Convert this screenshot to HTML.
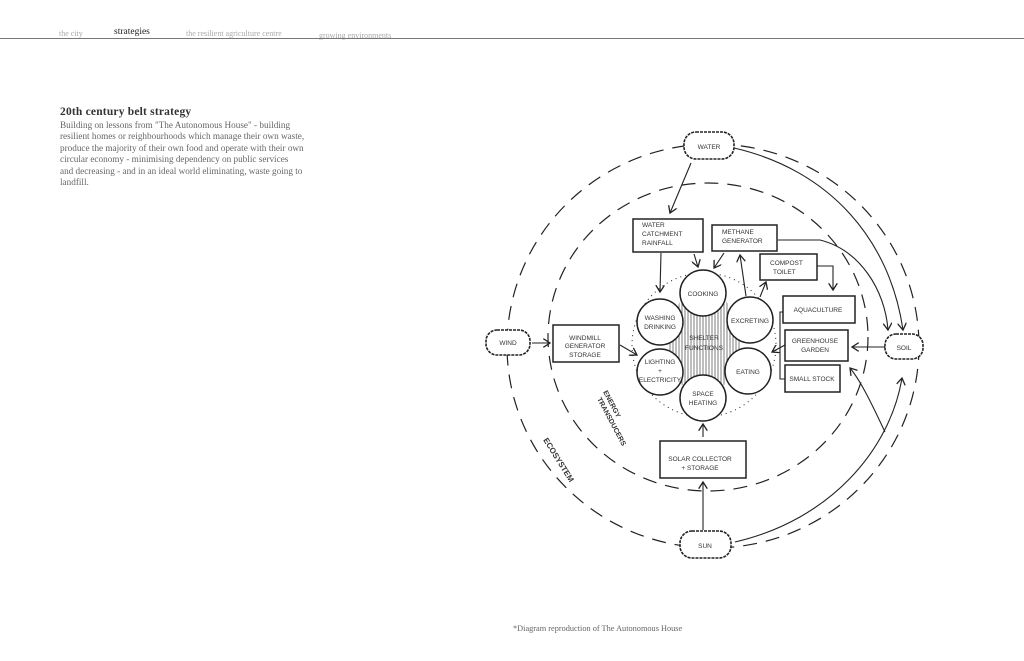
<!DOCTYPE html>
<html><head><meta charset="utf-8"><style>
html,body{margin:0;padding:0;background:#fff;}
body{width:1024px;height:661px;position:relative;overflow:hidden;font-family:"Liberation Serif",serif;}
.nav{position:absolute;top:29px;font-size:8px;color:#aaa;}
.line{position:absolute;left:0;top:38px;width:1024px;height:1px;background:#777;}
h1{position:absolute;left:60px;top:106px;margin:0;font-size:11.5px;font-weight:bold;color:#333;letter-spacing:0.2px;}
.p{position:absolute;left:60px;top:120px;font-size:9.2px;line-height:11.4px;color:#666;white-space:nowrap;}
.cap{position:absolute;left:513px;top:624px;font-size:8.3px;color:#666;}
svg{position:absolute;left:0;top:0;}
svg text{font-family:"Liberation Sans",sans-serif;font-size:6.5px;fill:#333;}
</style></head><body>
<div class="nav" style="left:59px">the city</div>
<div class="nav" style="left:114px;color:#222;font-size:9.5px;top:27px">strategies</div>
<div class="nav" style="left:186px">the resilient agriculture centre</div>
<div class="nav" style="left:319px;top:31px">growing environments</div>
<div class="line"></div>
<h1>20th century belt strategy</h1>
<div class="p">Building on lessons from "The Autonomous House" - building<br>resilient homes or reighbourhoods which manage their own waste,<br>produce the majority of their own food and operate with their own<br>circular economy - minimising dependency on public services<br>and decreasing - and in an ideal world eliminating, waste going to<br>landfill.</div>
<div class="cap">*Diagram reproduction of The Autonomous House</div>
<svg width="1024" height="661" viewBox="0 0 1024 661">
<defs>
<pattern id="hatch" width="3" height="6" patternUnits="userSpaceOnUse"><line x1="1" y1="0" x2="1" y2="6" stroke="#444" stroke-width="0.7"/></pattern>
<marker id="ar" markerWidth="9" markerHeight="9" refX="7" refY="4.5" orient="auto" markerUnits="userSpaceOnUse"><path d="M0,0 L7,4.5 L0,9" fill="none" stroke="#222" stroke-width="1.3"/></marker>
</defs>
<g fill="none" stroke="#222" stroke-width="1.2">
<ellipse cx="713" cy="346" rx="206" ry="202" stroke-dasharray="14 9"/>
<ellipse cx="708" cy="337" rx="160" ry="154" stroke-dasharray="14 9"/>
<circle cx="704" cy="345" r="72" stroke-dasharray="1 4" stroke-width="1"/>
<polygon points="680,300 726,300 740,335 742,352 724,385 682,385 668,352 670,335" fill="url(#hatch)" stroke="none"/>
</g>
<g fill="#fff" stroke="#222" stroke-width="1.5">
<circle cx="703" cy="293" r="23"/>
<circle cx="660" cy="322" r="23"/>
<circle cx="750" cy="320" r="23"/>
<circle cx="660" cy="372" r="23"/>
<circle cx="748" cy="371" r="23"/>
<circle cx="703" cy="398" r="23"/>
<rect x="633" y="219" width="70" height="33"/>
<rect x="712" y="225" width="65" height="26"/>
<rect x="760" y="254" width="57" height="26"/>
<rect x="783" y="296" width="72" height="27"/>
<rect x="785" y="330" width="63" height="31"/>
<rect x="785" y="365" width="55" height="27"/>
<rect x="553" y="325" width="66" height="37"/>
<rect x="660" y="441" width="86" height="37"/>
</g>
<g fill="#fff" stroke="#222" stroke-width="1.6" stroke-dasharray="3 1">
<rect x="684" y="132" width="50" height="27" rx="12"/>
<rect x="486" y="330" width="44" height="25" rx="11"/>
<rect x="885" y="334" width="38" height="25" rx="11"/>
<rect x="680" y="531" width="51" height="27" rx="12"/>
</g>
<g fill="none" stroke="#222" stroke-width="1.1">
<path d="M734,148 C830,170 890,240 903,330" marker-end="url(#ar)"/>
<path d="M735,542 C830,520 890,450 902,378" marker-end="url(#ar)"/>
<path d="M691,163 L670,213" marker-end="url(#ar)"/>
<path d="M532,343 L550,343" marker-end="url(#ar)"/>
<path d="M620,345 L637,355" marker-end="url(#ar)"/>
<path d="M661,253 L660,292" marker-end="url(#ar)"/>
<path d="M694,254 L698,267" marker-end="url(#ar)"/>
<path d="M724,253 L714,268" marker-end="url(#ar)"/>
<path d="M746,296 L740,255" marker-end="url(#ar)"/>
<path d="M760,297 L766,282" marker-end="url(#ar)"/>
<path d="M778,240 L820,240 C860,250 885,290 888,330" marker-end="url(#ar)"/>
<path d="M817,266 L833,266 L833,290" marker-end="url(#ar)"/>
<path d="M885,347 L852,347" marker-end="url(#ar)"/>
<path d="M885,432 C870,400 860,380 850,368" marker-end="url(#ar)"/>
<path d="M703,437 L703,424" marker-end="url(#ar)"/>
<path d="M703,530 L703,482" marker-end="url(#ar)"/>
<path d="M785,345 L772,352" marker-end="url(#ar)"/>
<path d="M783,312 L780,312 L780,379 L785,379"/>
</g>
<g text-anchor="middle">
<text x="709" y="149">WATER</text>
<text x="508" y="345">WIND</text>
<text x="904" y="350">SOIL</text>
<text x="705" y="548">SUN</text>
<text x="703" y="296">COOKING</text>
<text x="660" y="320">WASHING</text><text x="660" y="329">DRINKING</text>
<text x="750" y="323">EXCRETING</text>
<text x="660" y="364">LIGHTING</text><text x="660" y="373">+</text><text x="660" y="382">ELECTRICITY</text>
<text x="748" y="374">EATING</text>
<text x="703" y="396">SPACE</text><text x="703" y="405">HEATING</text>
<text x="704" y="340">SHELTER</text><text x="704" y="350">FUNCTIONS</text>
<text x="585" y="340">WINDMILL</text><text x="585" y="348">GENERATOR</text><text x="585" y="357">STORAGE</text>
<text x="700" y="461">SOLAR COLLECTOR</text><text x="700" y="470">+ STORAGE</text>
<text x="818" y="312">AQUACULTURE</text>
<text x="815" y="343">GREENHOUSE</text><text x="815" y="352">GARDEN</text>
<text x="812" y="381">SMALL STOCK</text>
</g>
<g>
<text x="642" y="227">WATER</text><text x="642" y="236">CATCHMENT</text><text x="642" y="245">RAINFALL</text>
<text x="722" y="234">METHANE</text><text x="722" y="243">GENERATOR</text>
<text x="770" y="265">COMPOST</text><text x="773" y="274">TOILET</text>
</g>
<g>
<text x="0" y="0" transform="translate(603,392) rotate(62)" style="font-size:7px;font-weight:bold">ENERGY</text>
<text x="0" y="0" transform="translate(597,399) rotate(62)" style="font-size:7px;font-weight:bold">TRANSDUCERS</text>
<text x="0" y="0" transform="translate(543,440) rotate(58)" style="font-size:8px;font-weight:bold">ECOSYSTEM</text>
</g>
</svg>
</body></html>
